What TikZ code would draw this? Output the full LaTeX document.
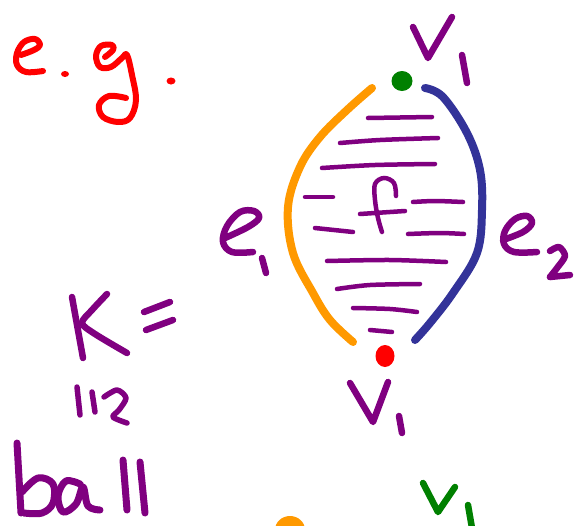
\documentclass[tikz,border=0pt]{standalone}
\definecolor{pp}{RGB}{128,0,128}
\definecolor{og}{RGB}{255,153,0}
\definecolor{bl}{RGB}{51,51,153}
\definecolor{gr}{RGB}{0,128,0}
\definecolor{rd}{RGB}{255,0,0}
\tikzset{
  pen/.style={line width=6.5pt, line cap=round, line join=round},
  hatch/.style={pp, line width=4.5pt, line cap=round},
  arc/.style={line width=8pt, line cap=round, line join=round},
}
\begin{document}
\begin{tikzpicture}[x=1pt,y=-1pt]
\useasboundingbox (0,0) rectangle (581,525);
% e.g.
\draw[pen,rd,line width=6pt] plot[smooth,tension=0.6] coordinates {(21,55) (34,50) (40,45) (35,39) (24,42) (17,53) (17,65) (26,72) (43,71)};
\fill[rd] (65,74) ellipse (4pt and 3pt);
\draw[pen,rd,line width=6pt] plot[smooth,tension=0.6] coordinates {(105,57) (113,50) (112,45) (101,46) (96,56) (100,67) (111,67) (122,58) (127,55) (132,75) (136,100) (130,118) (118,122) (103,117) (99,105) (109,96) (126,98)};
\fill[rd] (171,81) ellipse (4.5pt and 3.5pt);
% vertices
\fill[gr] (402,81) ellipse (10.5pt and 10pt);
\fill[rd] (385,356) ellipse (9.5pt and 11pt);
% edges
\draw[arc,og] plot[smooth,tension=0.6] coordinates {(372,88) (347,110) (320,137) (300,167) (288,207) (293,253) (313,293) (330,320) (353,342)};
\draw[arc,bl] plot[smooth,tension=0.6] coordinates {(425,88) (443,97) (467,133) (480,170) (482,210) (477,253) (453,293) (430,323) (415,340)};
% face hatching
\draw[hatch] (368,118) -- (432,117);
\draw[hatch] plot[smooth] coordinates {(340,143) (380,140) (438,138)};
\draw[hatch] plot[smooth] coordinates {(322,168) (375,165) (435,164)};
\draw[hatch] (305,197) -- (333,197);
\draw[hatch] plot[smooth] coordinates {(413,202) (435,201) (463,202)};
\draw[hatch] (315,228) -- (353,232);
\draw[hatch] plot[smooth] coordinates {(408,234) (440,233) (464,234)};
\draw[hatch] plot[smooth] coordinates {(327,261) (390,260) (446,262)};
\draw[hatch] plot[smooth] coordinates {(337,289) (370,285) (420,284)};
\draw[hatch] plot[smooth] coordinates {(353,308) (390,309) (417,312)};
\draw[hatch] (370,330) -- (392,332);
% f
\draw[hatch] plot[smooth,tension=0.6] coordinates {(396,196) (394,183) (384,178) (375,184) (375,200) (378,218) (382,232)};
\draw[hatch] (360,214) -- (405,211);
% V1 top
\draw[pen,pp] (413,27) -- (428,58) -- (452,17);
\draw[pen,pp] (462,55) -- (467,83);
% V1 bottom
\draw[pen,pp] (350,383) -- (373,422) -- (388,382);
\draw[pen,pp] (399,416) -- (402,433);
% e1
\draw[pen,pp] plot[smooth,tension=0.6] coordinates {(225,238) (248,227) (259,218) (254,211) (240,212) (227,226) (223,242) (232,252) (253,252)};
\draw[pen,pp] (262,258) -- (266,273);
% e2
\draw[pen,pp] plot[smooth,tension=0.6] coordinates {(503,240) (523,232) (532,223) (527,216) (515,219) (505,231) (504,244) (514,252) (537,252)};
\draw[pen,pp] plot[smooth,tension=0.5] coordinates {(550,251) (559,247) (565,256) (557,268) (550,277)};
\draw[pen,pp] (550,277) -- (570,275);
% K=
\draw[pen,pp] (72,297) -- (83,358);
\draw[pen,pp] plot[smooth,tension=0.5] coordinates {(107,294) (92,310) (82,323) (95,334) (127,353)};
\draw[pen,pp] (144,312) -- (170,302);
\draw[pen,pp] (146,330) -- (173,320);
% 112
\draw[pen,pp,line width=5.5pt] (77,387) -- (80,415);
\draw[pen,pp,line width=5.5pt] (92,392) -- (95,412);
\draw[pen,pp,line width=5.5pt] plot[smooth,tension=0.5] coordinates {(104,397) (117,390) (126,398) (119,410) (113,417) (127,423)};
% ball
\draw[pen,pp,line width=7pt] (17,443) -- (21,513);
\draw[pen,pp,line width=7pt] plot[smooth,tension=0.6] coordinates {(22,492) (38,478) (53,484) (53,503) (42,513) (24,513)};
\draw[pen,pp,line width=7pt] plot[smooth,tension=0.6] coordinates {(80,484) (66,481) (58,496) (63,512) (76,504) (83,487) (88,506) (100,510)};
\draw[pen,pp,line width=7pt] (123,460) -- (127,510);
\draw[pen,pp,line width=7pt] (140,462) -- (145,513);
% bottom: partial next drawing
\fill[og] (290,530) ellipse (15pt and 14pt);
\draw[pen,gr] (423,483) -- (438,512) -- (455,487);
\draw[pen,gr] (468,505) -- (472,528);
\end{tikzpicture}
\end{document}
